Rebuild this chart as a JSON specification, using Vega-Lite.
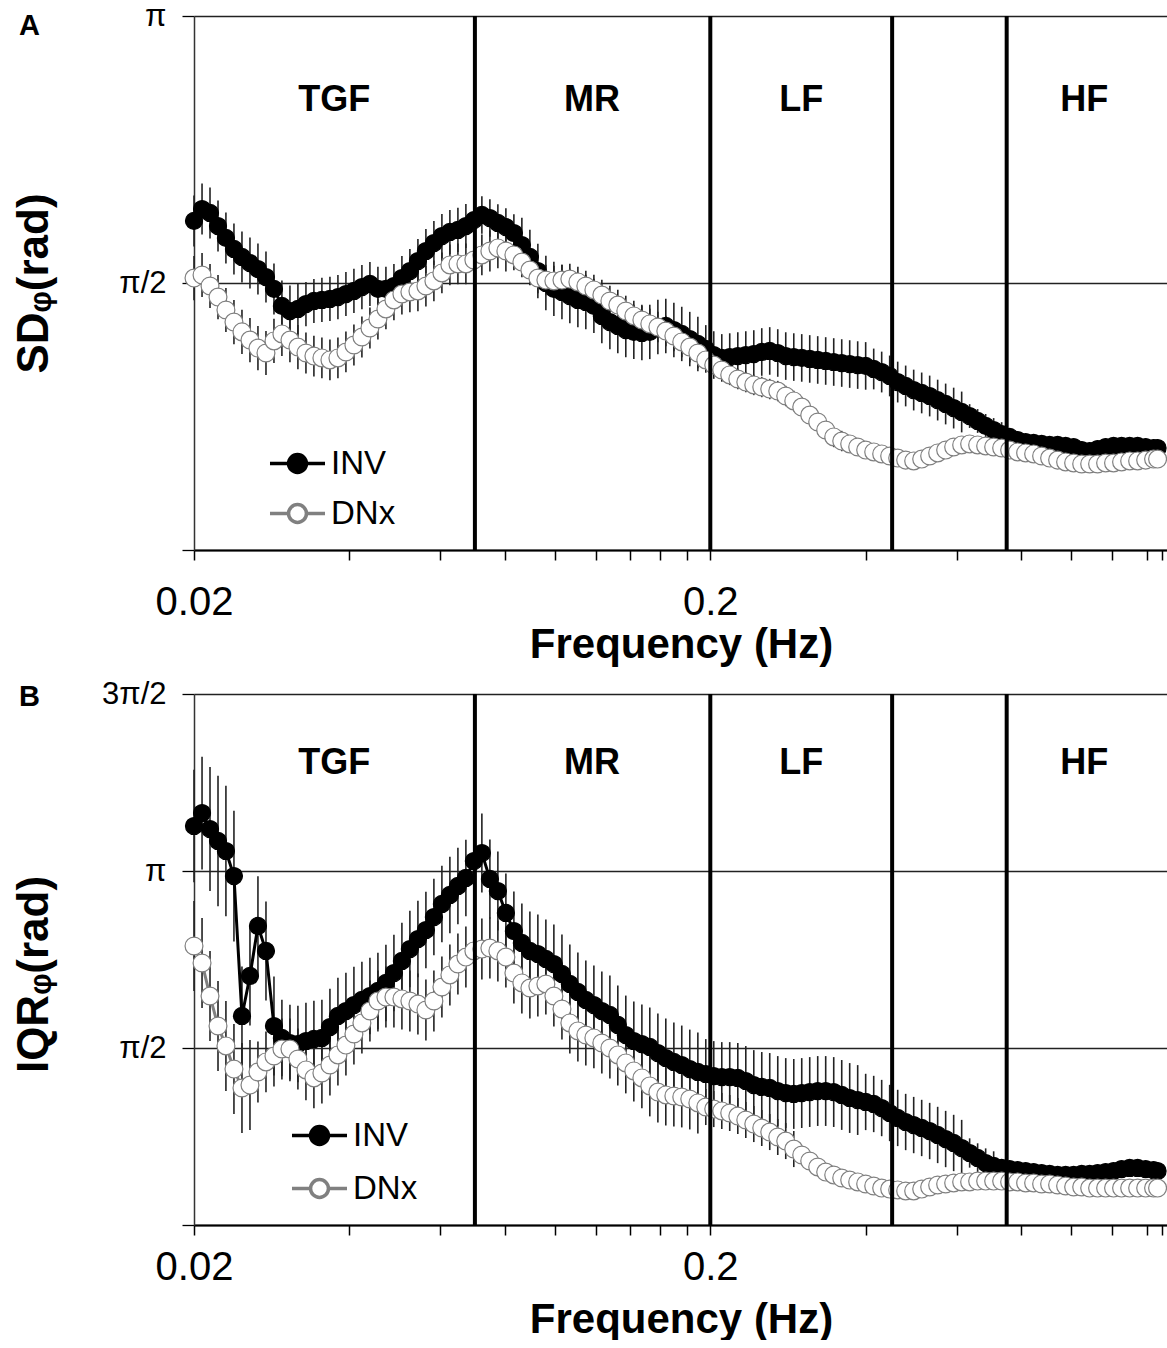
{
"$schema":"https://vega.github.io/schema/vega-lite/v6.json",
"background":"white",
"padding":{"left":11,"top":0,"right":0,"bottom":0},
"config":{"font":"Liberation Sans","view":{"stroke":null}},
"datasets":{
"A":[
{"f":0.02,"inv":1.936,"invErr":0.15,"dnx":1.600,"dnxErr":0.13},
{"f":0.02073,"inv":2.006,"invErr":0.15,"dnx":1.618,"dnxErr":0.13},
{"f":0.02148,"inv":1.983,"invErr":0.15,"dnx":1.553,"dnxErr":0.13},
{"f":0.02226,"inv":1.906,"invErr":0.15,"dnx":1.488,"dnxErr":0.13},
{"f":0.02306,"inv":1.836,"invErr":0.15,"dnx":1.412,"dnxErr":0.13},
{"f":0.0239,"inv":1.771,"invErr":0.15,"dnx":1.341,"dnxErr":0.13},
{"f":0.02477,"inv":1.724,"invErr":0.15,"dnx":1.283,"dnxErr":0.13},
{"f":0.02567,"inv":1.688,"invErr":0.15,"dnx":1.235,"dnxErr":0.13},
{"f":0.0266,"inv":1.653,"invErr":0.15,"dnx":1.188,"dnxErr":0.13},
{"f":0.02757,"inv":1.606,"invErr":0.15,"dnx":1.159,"dnxErr":0.13},
{"f":0.02857,"inv":1.536,"invErr":0.15,"dnx":1.230,"dnxErr":0.13},
{"f":0.0296,"inv":1.436,"invErr":0.15,"dnx":1.271,"dnxErr":0.13},
{"f":0.03068,"inv":1.406,"invErr":0.15,"dnx":1.235,"dnxErr":0.13},
{"f":0.03179,"inv":1.418,"invErr":0.15,"dnx":1.194,"dnxErr":0.13},
{"f":0.03295,"inv":1.447,"invErr":0.13,"dnx":1.159,"dnxErr":0.12},
{"f":0.03414,"inv":1.465,"invErr":0.13,"dnx":1.141,"dnxErr":0.12},
{"f":0.03538,"inv":1.471,"invErr":0.13,"dnx":1.130,"dnxErr":0.12},
{"f":0.03667,"inv":1.477,"invErr":0.13,"dnx":1.118,"dnxErr":0.12},
{"f":0.038,"inv":1.488,"invErr":0.13,"dnx":1.130,"dnxErr":0.12},
{"f":0.03938,"inv":1.506,"invErr":0.13,"dnx":1.165,"dnxErr":0.12},
{"f":0.04081,"inv":1.524,"invErr":0.13,"dnx":1.206,"dnxErr":0.12},
{"f":0.04229,"inv":1.547,"invErr":0.13,"dnx":1.253,"dnxErr":0.12},
{"f":0.04383,"inv":1.565,"invErr":0.13,"dnx":1.306,"dnxErr":0.12},
{"f":0.04542,"inv":1.536,"invErr":0.13,"dnx":1.359,"dnxErr":0.12},
{"f":0.04707,"inv":1.536,"invErr":0.13,"dnx":1.418,"dnxErr":0.12},
{"f":0.04878,"inv":1.553,"invErr":0.13,"dnx":1.471,"dnxErr":0.12},
{"f":0.05055,"inv":1.600,"invErr":0.13,"dnx":1.506,"dnxErr":0.12},
{"f":0.05238,"inv":1.641,"invErr":0.13,"dnx":1.518,"dnxErr":0.12},
{"f":0.05429,"inv":1.700,"invErr":0.13,"dnx":1.524,"dnxErr":0.12},
{"f":0.05626,"inv":1.759,"invErr":0.13,"dnx":1.553,"dnxErr":0.12},
{"f":0.0583,"inv":1.806,"invErr":0.13,"dnx":1.583,"dnxErr":0.12},
{"f":0.06042,"inv":1.847,"invErr":0.13,"dnx":1.630,"dnxErr":0.12},
{"f":0.06261,"inv":1.871,"invErr":0.13,"dnx":1.677,"dnxErr":0.12},
{"f":0.06489,"inv":1.883,"invErr":0.13,"dnx":1.683,"dnxErr":0.12},
{"f":0.06724,"inv":1.906,"invErr":0.13,"dnx":1.683,"dnxErr":0.12},
{"f":0.06968,"inv":1.941,"invErr":0.11,"dnx":1.706,"dnxErr":0.12},
{"f":0.07221,"inv":1.971,"invErr":0.11,"dnx":1.736,"dnxErr":0.12},
{"f":0.07484,"inv":1.953,"invErr":0.11,"dnx":1.759,"dnxErr":0.12},
{"f":0.07755,"inv":1.924,"invErr":0.11,"dnx":1.777,"dnxErr":0.12},
{"f":0.08037,"inv":1.900,"invErr":0.11,"dnx":1.759,"dnxErr":0.12},
{"f":0.08329,"inv":1.865,"invErr":0.11,"dnx":1.736,"dnxErr":0.09},
{"f":0.08631,"inv":1.794,"invErr":0.16,"dnx":1.694,"dnxErr":0.09},
{"f":0.08945,"inv":1.724,"invErr":0.16,"dnx":1.647,"dnxErr":0.09},
{"f":0.09269,"inv":1.641,"invErr":0.16,"dnx":1.600,"dnxErr":0.09},
{"f":0.09606,"inv":1.571,"invErr":0.16,"dnx":1.588,"dnxErr":0.09},
{"f":0.09955,"inv":1.536,"invErr":0.16,"dnx":1.583,"dnxErr":0.09},
{"f":0.1032,"inv":1.518,"invErr":0.16,"dnx":1.588,"dnxErr":0.09},
{"f":0.1069,"inv":1.494,"invErr":0.16,"dnx":1.594,"dnxErr":0.09},
{"f":0.1108,"inv":1.471,"invErr":0.16,"dnx":1.577,"dnxErr":0.09},
{"f":0.1148,"inv":1.459,"invErr":0.16,"dnx":1.553,"dnxErr":0.09},
{"f":0.119,"inv":1.436,"invErr":0.16,"dnx":1.530,"dnxErr":0.09},
{"f":0.1233,"inv":1.377,"invErr":0.16,"dnx":1.500,"dnxErr":0.09},
{"f":0.1278,"inv":1.341,"invErr":0.16,"dnx":1.465,"dnxErr":0.09},
{"f":0.1324,"inv":1.318,"invErr":0.16,"dnx":1.441,"dnxErr":0.09},
{"f":0.1372,"inv":1.294,"invErr":0.16,"dnx":1.406,"dnxErr":0.09},
{"f":0.1422,"inv":1.283,"invErr":0.16,"dnx":1.377,"dnxErr":0.09},
{"f":0.1474,"inv":1.277,"invErr":0.16,"dnx":1.353,"dnxErr":0.09},
{"f":0.1527,"inv":1.283,"invErr":0.16,"dnx":1.330,"dnxErr":0.09},
{"f":0.1583,"inv":1.312,"invErr":0.16,"dnx":1.312,"dnxErr":0.09},
{"f":0.164,"inv":1.318,"invErr":0.16,"dnx":1.288,"dnxErr":0.09},
{"f":0.17,"inv":1.294,"invErr":0.16,"dnx":1.259,"dnxErr":0.09},
{"f":0.1761,"inv":1.271,"invErr":0.16,"dnx":1.224,"dnxErr":0.09},
{"f":0.1825,"inv":1.241,"invErr":0.16,"dnx":1.194,"dnxErr":0.09},
{"f":0.1892,"inv":1.212,"invErr":0.16,"dnx":1.159,"dnxErr":0.09},
{"f":0.196,"inv":1.183,"invErr":0.14,"dnx":1.118,"dnxErr":0.06},
{"f":0.2031,"inv":1.147,"invErr":0.14,"dnx":1.088,"dnxErr":0.06},
{"f":0.2105,"inv":1.130,"invErr":0.14,"dnx":1.059,"dnxErr":0.06},
{"f":0.2181,"inv":1.135,"invErr":0.14,"dnx":1.030,"dnxErr":0.06},
{"f":0.2261,"inv":1.141,"invErr":0.14,"dnx":1.006,"dnxErr":0.06},
{"f":0.2343,"inv":1.147,"invErr":0.14,"dnx":0.988,"dnxErr":0.06},
{"f":0.2428,"inv":1.153,"invErr":0.14,"dnx":0.971,"dnxErr":0.06},
{"f":0.2516,"inv":1.165,"invErr":0.14,"dnx":0.959,"dnxErr":0.06},
{"f":0.2607,"inv":1.171,"invErr":0.14,"dnx":0.947,"dnxErr":0.06},
{"f":0.2702,"inv":1.159,"invErr":0.14,"dnx":0.935,"dnxErr":0.06},
{"f":0.28,"inv":1.141,"invErr":0.14,"dnx":0.906,"dnxErr":0.06},
{"f":0.2902,"inv":1.135,"invErr":0.14,"dnx":0.877,"dnxErr":0.06},
{"f":0.3007,"inv":1.130,"invErr":0.14,"dnx":0.841,"dnxErr":0.06},
{"f":0.3116,"inv":1.124,"invErr":0.14,"dnx":0.794,"dnxErr":0.06},
{"f":0.3229,"inv":1.118,"invErr":0.14,"dnx":0.753,"dnxErr":0.06},
{"f":0.3346,"inv":1.112,"invErr":0.14,"dnx":0.706,"dnxErr":0.06},
{"f":0.3468,"inv":1.106,"invErr":0.14,"dnx":0.665,"dnxErr":0.06},
{"f":0.3594,"inv":1.100,"invErr":0.14,"dnx":0.641,"dnxErr":0.06},
{"f":0.3724,"inv":1.094,"invErr":0.14,"dnx":0.624,"dnxErr":0.02},
{"f":0.3859,"inv":1.088,"invErr":0.14,"dnx":0.606,"dnxErr":0.02},
{"f":0.3999,"inv":1.083,"invErr":0.14,"dnx":0.588,"dnxErr":0.02},
{"f":0.4145,"inv":1.065,"invErr":0.12,"dnx":0.577,"dnxErr":0.02},
{"f":0.4295,"inv":1.047,"invErr":0.12,"dnx":0.565,"dnxErr":0.02},
{"f":0.4451,"inv":1.024,"invErr":0.12,"dnx":0.553,"dnxErr":0.02},
{"f":0.4613,"inv":0.988,"invErr":0.12,"dnx":0.541,"dnxErr":0.02},
{"f":0.478,"inv":0.965,"invErr":0.12,"dnx":0.529,"dnxErr":0.02},
{"f":0.4954,"inv":0.941,"invErr":0.12,"dnx":0.524,"dnxErr":0.02},
{"f":0.5134,"inv":0.924,"invErr":0.12,"dnx":0.535,"dnxErr":0.02},
{"f":0.532,"inv":0.906,"invErr":0.12,"dnx":0.553,"dnxErr":0.02},
{"f":0.5513,"inv":0.882,"invErr":0.12,"dnx":0.571,"dnxErr":0.02},
{"f":0.5713,"inv":0.859,"invErr":0.12,"dnx":0.588,"dnxErr":0.02},
{"f":0.5921,"inv":0.835,"invErr":0.12,"dnx":0.606,"dnxErr":0.02},
{"f":0.6136,"inv":0.812,"invErr":0.12,"dnx":0.618,"dnxErr":0.02},
{"f":0.6358,"inv":0.788,"invErr":0.07,"dnx":0.624,"dnxErr":0.02},
{"f":0.6589,"inv":0.759,"invErr":0.07,"dnx":0.618,"dnxErr":0.02},
{"f":0.6829,"inv":0.730,"invErr":0.07,"dnx":0.612,"dnxErr":0.02},
{"f":0.7077,"inv":0.706,"invErr":0.07,"dnx":0.606,"dnxErr":0.02},
{"f":0.7334,"inv":0.682,"invErr":0.07,"dnx":0.600,"dnxErr":0.02},
{"f":0.76,"inv":0.665,"invErr":0.03,"dnx":0.588,"dnxErr":0.02},
{"f":0.7876,"inv":0.647,"invErr":0.03,"dnx":0.577,"dnxErr":0.02},
{"f":0.8162,"inv":0.635,"invErr":0.03,"dnx":0.571,"dnxErr":0.02},
{"f":0.8458,"inv":0.630,"invErr":0.03,"dnx":0.565,"dnxErr":0.02},
{"f":0.8765,"inv":0.624,"invErr":0.03,"dnx":0.553,"dnxErr":0.02},
{"f":0.9083,"inv":0.618,"invErr":0.03,"dnx":0.541,"dnxErr":0.02},
{"f":0.9413,"inv":0.618,"invErr":0.03,"dnx":0.529,"dnxErr":0.02},
{"f":0.9755,"inv":0.612,"invErr":0.03,"dnx":0.518,"dnxErr":0.02},
{"f":1.011,"inv":0.606,"invErr":0.03,"dnx":0.512,"dnxErr":0.02},
{"f":1.048,"inv":0.588,"invErr":0.05,"dnx":0.506,"dnxErr":0.02},
{"f":1.086,"inv":0.582,"invErr":0.05,"dnx":0.506,"dnxErr":0.02},
{"f":1.125,"inv":0.594,"invErr":0.05,"dnx":0.506,"dnxErr":0.02},
{"f":1.166,"inv":0.606,"invErr":0.05,"dnx":0.512,"dnxErr":0.02},
{"f":1.208,"inv":0.612,"invErr":0.05,"dnx":0.512,"dnxErr":0.02},
{"f":1.252,"inv":0.612,"invErr":0.05,"dnx":0.518,"dnxErr":0.02},
{"f":1.298,"inv":0.612,"invErr":0.05,"dnx":0.524,"dnxErr":0.02},
{"f":1.345,"inv":0.612,"invErr":0.05,"dnx":0.524,"dnxErr":0.02},
{"f":1.394,"inv":0.606,"invErr":0.05,"dnx":0.529,"dnxErr":0.02},
{"f":1.444,"inv":0.600,"invErr":0.05,"dnx":0.535,"dnxErr":0.02},
{"f":1.47,"inv":0.600,"invErr":0.05,"dnx":0.535,"dnxErr":0.02}
],
"B":[
{"f":0.02,"inv":3.541,"invErr":0.50,"dnx":2.476,"dnxErr":0.40},
{"f":0.02073,"inv":3.656,"invErr":0.50,"dnx":2.325,"dnxErr":0.40},
{"f":0.02148,"inv":3.514,"invErr":0.55,"dnx":2.032,"dnxErr":0.40},
{"f":0.02226,"inv":3.408,"invErr":0.58,"dnx":1.766,"dnxErr":0.40},
{"f":0.02306,"inv":3.319,"invErr":0.58,"dnx":1.589,"dnxErr":0.40},
{"f":0.0239,"inv":3.097,"invErr":0.58,"dnx":1.384,"dnxErr":0.40},
{"f":0.02477,"inv":1.855,"invErr":0.44,"dnx":1.216,"dnxErr":0.40},
{"f":0.02567,"inv":2.210,"invErr":0.44,"dnx":1.242,"dnxErr":0.40},
{"f":0.0266,"inv":2.654,"invErr":0.44,"dnx":1.358,"dnxErr":0.27},
{"f":0.02757,"inv":2.432,"invErr":0.44,"dnx":1.447,"dnxErr":0.27},
{"f":0.02857,"inv":1.766,"invErr":0.44,"dnx":1.500,"dnxErr":0.27},
{"f":0.0296,"inv":1.660,"invErr":0.34,"dnx":1.562,"dnxErr":0.27},
{"f":0.03068,"inv":1.615,"invErr":0.34,"dnx":1.562,"dnxErr":0.27},
{"f":0.03179,"inv":1.606,"invErr":0.34,"dnx":1.473,"dnxErr":0.27},
{"f":0.03295,"inv":1.633,"invErr":0.34,"dnx":1.376,"dnxErr":0.27},
{"f":0.03414,"inv":1.651,"invErr":0.34,"dnx":1.305,"dnxErr":0.27},
{"f":0.03538,"inv":1.660,"invErr":0.34,"dnx":1.349,"dnxErr":0.27},
{"f":0.03667,"inv":1.757,"invErr":0.34,"dnx":1.420,"dnxErr":0.27},
{"f":0.038,"inv":1.855,"invErr":0.34,"dnx":1.509,"dnxErr":0.27},
{"f":0.03938,"inv":1.899,"invErr":0.34,"dnx":1.597,"dnxErr":0.27},
{"f":0.04081,"inv":1.952,"invErr":0.34,"dnx":1.695,"dnxErr":0.27},
{"f":0.04229,"inv":1.997,"invErr":0.34,"dnx":1.793,"dnxErr":0.27},
{"f":0.04383,"inv":2.032,"invErr":0.34,"dnx":1.899,"dnxErr":0.27},
{"f":0.04542,"inv":2.077,"invErr":0.34,"dnx":1.988,"dnxErr":0.27},
{"f":0.04707,"inv":2.148,"invErr":0.34,"dnx":2.023,"dnxErr":0.27},
{"f":0.04878,"inv":2.236,"invErr":0.34,"dnx":2.023,"dnxErr":0.27},
{"f":0.05055,"inv":2.343,"invErr":0.34,"dnx":2.006,"dnxErr":0.27},
{"f":0.05238,"inv":2.449,"invErr":0.34,"dnx":1.988,"dnxErr":0.27},
{"f":0.05429,"inv":2.538,"invErr":0.34,"dnx":1.961,"dnxErr":0.27},
{"f":0.05626,"inv":2.618,"invErr":0.34,"dnx":1.908,"dnxErr":0.27},
{"f":0.0583,"inv":2.733,"invErr":0.34,"dnx":1.988,"dnxErr":0.27},
{"f":0.06042,"inv":2.849,"invErr":0.34,"dnx":2.112,"dnxErr":0.27},
{"f":0.06261,"inv":2.929,"invErr":0.34,"dnx":2.219,"dnxErr":0.27},
{"f":0.06489,"inv":3.009,"invErr":0.34,"dnx":2.316,"dnxErr":0.27},
{"f":0.06724,"inv":3.080,"invErr":0.34,"dnx":2.378,"dnxErr":0.27},
{"f":0.06968,"inv":3.230,"invErr":0.35,"dnx":2.432,"dnxErr":0.27},
{"f":0.07221,"inv":3.301,"invErr":0.35,"dnx":2.449,"dnxErr":0.27},
{"f":0.07484,"inv":3.071,"invErr":0.35,"dnx":2.458,"dnxErr":0.27},
{"f":0.07755,"inv":2.964,"invErr":0.35,"dnx":2.432,"dnxErr":0.27},
{"f":0.08037,"inv":2.769,"invErr":0.35,"dnx":2.378,"dnxErr":0.27},
{"f":0.08329,"inv":2.609,"invErr":0.35,"dnx":2.236,"dnxErr":0.27},
{"f":0.08631,"inv":2.503,"invErr":0.35,"dnx":2.148,"dnxErr":0.27},
{"f":0.08945,"inv":2.432,"invErr":0.35,"dnx":2.103,"dnxErr":0.27},
{"f":0.09269,"inv":2.405,"invErr":0.35,"dnx":2.121,"dnxErr":0.27},
{"f":0.09606,"inv":2.361,"invErr":0.35,"dnx":2.139,"dnxErr":0.27},
{"f":0.09955,"inv":2.316,"invErr":0.35,"dnx":2.032,"dnxErr":0.27},
{"f":0.1032,"inv":2.228,"invErr":0.35,"dnx":1.917,"dnxErr":0.27},
{"f":0.1069,"inv":2.139,"invErr":0.35,"dnx":1.793,"dnxErr":0.27},
{"f":0.1108,"inv":2.068,"invErr":0.35,"dnx":1.722,"dnxErr":0.27},
{"f":0.1148,"inv":1.997,"invErr":0.35,"dnx":1.686,"dnxErr":0.27},
{"f":0.119,"inv":1.952,"invErr":0.35,"dnx":1.660,"dnxErr":0.27},
{"f":0.1233,"inv":1.899,"invErr":0.35,"dnx":1.615,"dnxErr":0.27},
{"f":0.1278,"inv":1.864,"invErr":0.35,"dnx":1.571,"dnxErr":0.27},
{"f":0.1324,"inv":1.775,"invErr":0.35,"dnx":1.509,"dnxErr":0.27},
{"f":0.1372,"inv":1.686,"invErr":0.35,"dnx":1.438,"dnxErr":0.27},
{"f":0.1422,"inv":1.633,"invErr":0.35,"dnx":1.367,"dnxErr":0.27},
{"f":0.1474,"inv":1.606,"invErr":0.35,"dnx":1.305,"dnxErr":0.27},
{"f":0.1527,"inv":1.580,"invErr":0.35,"dnx":1.234,"dnxErr":0.27},
{"f":0.1583,"inv":1.526,"invErr":0.35,"dnx":1.180,"dnxErr":0.27},
{"f":0.164,"inv":1.482,"invErr":0.35,"dnx":1.154,"dnxErr":0.27},
{"f":0.17,"inv":1.447,"invErr":0.35,"dnx":1.145,"dnxErr":0.27},
{"f":0.1761,"inv":1.420,"invErr":0.35,"dnx":1.136,"dnxErr":0.27},
{"f":0.1825,"inv":1.384,"invErr":0.35,"dnx":1.118,"dnxErr":0.27},
{"f":0.1892,"inv":1.358,"invErr":0.35,"dnx":1.083,"dnxErr":0.27},
{"f":0.196,"inv":1.340,"invErr":0.31,"dnx":1.047,"dnxErr":0.16},
{"f":0.2031,"inv":1.322,"invErr":0.31,"dnx":1.029,"dnxErr":0.16},
{"f":0.2105,"inv":1.313,"invErr":0.31,"dnx":1.012,"dnxErr":0.16},
{"f":0.2181,"inv":1.313,"invErr":0.31,"dnx":0.994,"dnxErr":0.16},
{"f":0.2261,"inv":1.305,"invErr":0.31,"dnx":0.967,"dnxErr":0.16},
{"f":0.2343,"inv":1.278,"invErr":0.31,"dnx":0.932,"dnxErr":0.16},
{"f":0.2428,"inv":1.242,"invErr":0.31,"dnx":0.896,"dnxErr":0.16},
{"f":0.2516,"inv":1.225,"invErr":0.31,"dnx":0.861,"dnxErr":0.16},
{"f":0.2607,"inv":1.216,"invErr":0.31,"dnx":0.825,"dnxErr":0.16},
{"f":0.2702,"inv":1.189,"invErr":0.31,"dnx":0.781,"dnxErr":0.16},
{"f":0.28,"inv":1.171,"invErr":0.31,"dnx":0.745,"dnxErr":0.16},
{"f":0.2902,"inv":1.163,"invErr":0.31,"dnx":0.674,"dnxErr":0.16},
{"f":0.3007,"inv":1.171,"invErr":0.31,"dnx":0.621,"dnxErr":0.04},
{"f":0.3116,"inv":1.180,"invErr":0.31,"dnx":0.568,"dnxErr":0.04},
{"f":0.3229,"inv":1.189,"invErr":0.31,"dnx":0.515,"dnxErr":0.04},
{"f":0.3346,"inv":1.189,"invErr":0.31,"dnx":0.470,"dnxErr":0.04},
{"f":0.3468,"inv":1.180,"invErr":0.31,"dnx":0.444,"dnxErr":0.04},
{"f":0.3594,"inv":1.154,"invErr":0.31,"dnx":0.417,"dnxErr":0.04},
{"f":0.3724,"inv":1.127,"invErr":0.31,"dnx":0.399,"dnxErr":0.04},
{"f":0.3859,"inv":1.109,"invErr":0.31,"dnx":0.382,"dnxErr":0.04},
{"f":0.3999,"inv":1.092,"invErr":0.25,"dnx":0.364,"dnxErr":0.04},
{"f":0.4145,"inv":1.074,"invErr":0.25,"dnx":0.346,"dnxErr":0.04},
{"f":0.4295,"inv":1.038,"invErr":0.25,"dnx":0.328,"dnxErr":0.04},
{"f":0.4451,"inv":0.994,"invErr":0.25,"dnx":0.319,"dnxErr":0.04},
{"f":0.4613,"inv":0.950,"invErr":0.25,"dnx":0.311,"dnxErr":0.04},
{"f":0.478,"inv":0.914,"invErr":0.25,"dnx":0.302,"dnxErr":0.04},
{"f":0.4954,"inv":0.887,"invErr":0.25,"dnx":0.302,"dnxErr":0.04},
{"f":0.5134,"inv":0.861,"invErr":0.25,"dnx":0.319,"dnxErr":0.04},
{"f":0.532,"inv":0.834,"invErr":0.25,"dnx":0.337,"dnxErr":0.04},
{"f":0.5513,"inv":0.799,"invErr":0.25,"dnx":0.355,"dnxErr":0.04},
{"f":0.5713,"inv":0.763,"invErr":0.25,"dnx":0.364,"dnxErr":0.04},
{"f":0.5921,"inv":0.728,"invErr":0.25,"dnx":0.373,"dnxErr":0.04},
{"f":0.6136,"inv":0.683,"invErr":0.25,"dnx":0.382,"dnxErr":0.04},
{"f":0.6358,"inv":0.639,"invErr":0.13,"dnx":0.382,"dnxErr":0.04},
{"f":0.6589,"inv":0.595,"invErr":0.13,"dnx":0.390,"dnxErr":0.04},
{"f":0.6829,"inv":0.550,"invErr":0.13,"dnx":0.390,"dnxErr":0.04},
{"f":0.7077,"inv":0.524,"invErr":0.13,"dnx":0.390,"dnxErr":0.04},
{"f":0.7334,"inv":0.506,"invErr":0.04,"dnx":0.390,"dnxErr":0.04},
{"f":0.76,"inv":0.497,"invErr":0.04,"dnx":0.382,"dnxErr":0.04},
{"f":0.7876,"inv":0.488,"invErr":0.04,"dnx":0.382,"dnxErr":0.04},
{"f":0.8162,"inv":0.479,"invErr":0.04,"dnx":0.373,"dnxErr":0.04},
{"f":0.8458,"inv":0.470,"invErr":0.04,"dnx":0.373,"dnxErr":0.04},
{"f":0.8765,"inv":0.461,"invErr":0.04,"dnx":0.364,"dnxErr":0.04},
{"f":0.9083,"inv":0.453,"invErr":0.04,"dnx":0.364,"dnxErr":0.04},
{"f":0.9413,"inv":0.444,"invErr":0.04,"dnx":0.355,"dnxErr":0.04},
{"f":0.9755,"inv":0.444,"invErr":0.04,"dnx":0.346,"dnxErr":0.04},
{"f":1.011,"inv":0.444,"invErr":0.04,"dnx":0.337,"dnxErr":0.04},
{"f":1.048,"inv":0.453,"invErr":0.07,"dnx":0.337,"dnxErr":0.04},
{"f":1.086,"inv":0.453,"invErr":0.07,"dnx":0.328,"dnxErr":0.04},
{"f":1.125,"inv":0.461,"invErr":0.07,"dnx":0.328,"dnxErr":0.04},
{"f":1.166,"inv":0.470,"invErr":0.07,"dnx":0.328,"dnxErr":0.04},
{"f":1.208,"inv":0.479,"invErr":0.07,"dnx":0.328,"dnxErr":0.04},
{"f":1.252,"inv":0.497,"invErr":0.07,"dnx":0.328,"dnxErr":0.04},
{"f":1.298,"inv":0.506,"invErr":0.07,"dnx":0.328,"dnxErr":0.04},
{"f":1.345,"inv":0.506,"invErr":0.07,"dnx":0.328,"dnxErr":0.04},
{"f":1.394,"inv":0.497,"invErr":0.07,"dnx":0.328,"dnxErr":0.04},
{"f":1.444,"inv":0.488,"invErr":0.07,"dnx":0.328,"dnxErr":0.04},
{"f":1.47,"inv":0.479,"invErr":0.07,"dnx":0.328,"dnxErr":0.04}
],
"bands":[{"f":0.07},{"f":0.2},{"f":0.45},{"f":0.75}],
"labelsA":[{"f":0.0374,"v":2.65,"label":"TGF"},{"f":0.118,"v":2.65,"label":"MR"},{"f":0.3,"v":2.65,"label":"LF"},{"f":1.06,"v":2.65,"label":"HF"}],
"labelsB":[{"f":0.0374,"v":4.1,"label":"TGF"},{"f":0.118,"v":4.1,"label":"MR"},{"f":0.3,"v":4.1,"label":"LF"},{"f":1.06,"v":4.1,"label":"HF"}]
},
"spacing":144,
"bounds":"flush",
"resolve":{"scale":{"x":"independent","y":"independent","fill":"independent","stroke":"independent"},"legend":{"fill":"independent","stroke":"independent"}},
"vconcat":[
{
"width":974,"height":534,
"title":{"text":"A","anchor":"start","frame":"bounds","fontSize":29,"fontWeight":"bold","font":"Liberation Sans","color":"black","offset":-41,"dx":7},
"data":{"name":"A"},
"encoding":{"x":{"field":"f","type":"quantitative","scale":{"type":"log","domain":[0.02,1.54]},
"axis":{"title":"Frequency (Hz)","values":[0.02,0.04,0.06,0.08,0.1,0.12,0.14,0.16,0.18,0.2,0.4,0.6,0.8,1,1.2,1.4,1.5],"labelExpr":"datum.value == 0.02 ? '0.02' : (datum.value == 0.2 ? '0.2' : '')","grid":false,"tickSize":10,"tickWidth":1.5,"tickColor":"black","domainColor":"black","domainWidth":2,"labelFontSize":40,"labelColor":"black","labelPadding":22,"labelFlush":false,"labelOverlap":false,"labelBound":false,"titleFontSize":42,"titleFontWeight":"bold","titleColor":"black","titleY":74,"titleBaseline":"top"}}},
"layer":[
{"mark":{"type":"errorbar","color":"#222","thickness":1.6},
"encoding":{"y":{"field":"inv","type":"quantitative","title":"SDᵩ(rad)","scale":{"domain":[0,3.1415927]},
"axis":{"title":"SDᵩ(rad)","values":[0,1.5707963,3.1415927],"labelExpr":"datum.value < 0.1 ? '' : (datum.value < 2 ? 'π/2' : (datum.value < 4 ? 'π' : '3π/2'))","grid":true,"gridColor":"#222","gridWidth":1.3,"tickSize":12,"tickColor":"black","tickWidth":1.3,"domainColor":"#333","domainWidth":1.5,"labelFontSize":31,"labelColor":"black","labelPadding":16,"titleFontSize":44,"titleFontWeight":"bold","titleColor":"black","titleAngle":-90,"titleX":-147,"titleY":267,"titleBaseline":"alphabetic","titleAlign":"center"}},
"yError":{"field":"invErr"}}},
{"mark":{"type":"errorbar","color":"#222","thickness":1.6},
"encoding":{"y":{"field":"dnx","type":"quantitative","title":"SDᵩ(rad)","scale":{"domain":[0,3.1415927]}},"yError":{"field":"dnxErr"}}},
{"mark":{"type":"line","color":"black","strokeWidth":3},
"encoding":{"y":{"field":"inv","type":"quantitative","title":"SDᵩ(rad)","scale":{"domain":[0,3.1415927]}}}},
{"mark":{"type":"circle","size":290,"opacity":1,"strokeWidth":1.2},
"encoding":{"y":{"field":"inv","type":"quantitative","title":"SDᵩ(rad)","scale":{"domain":[0,3.1415927]}},
"fill":{"datum":"INV","type":"nominal","scale":{"domain":["INV","DNx"],"range":["black","white"]},
"legend":{"title":null,"orient":"none","legendX":79,"legendY":423,"symbolType":"M-1.23,0L-0.4,0M1.23,0L0.4,0M0.4,0A0.4,0.4,0,1,1,-0.4,0A0.4,0.4,0,1,1,0.4,0Z","symbolSize":2000,"symbolStrokeWidth":3.5,"symbolOpacity":1,"labelFontSize":33,"labelFont":"Liberation Sans","labelColor":"black","labelOffset":9,"rowPadding":8,"padding":0}},
"stroke":{"datum":"INV","type":"nominal","scale":{"domain":["INV","DNx"],"range":["black","#808080"]},
"legend":{"title":null,"orient":"none","legendX":79,"legendY":423,"symbolType":"M-1.23,0L-0.4,0M1.23,0L0.4,0M0.4,0A0.4,0.4,0,1,1,-0.4,0A0.4,0.4,0,1,1,0.4,0Z","symbolSize":2000,"symbolStrokeWidth":3.5,"symbolOpacity":1,"labelFontSize":33,"labelFont":"Liberation Sans","labelColor":"black","labelOffset":9,"rowPadding":8,"padding":0}}}},
{"mark":{"type":"line","color":"#808080","strokeWidth":3},
"encoding":{"y":{"field":"dnx","type":"quantitative","title":"SDᵩ(rad)","scale":{"domain":[0,3.1415927]}}}},
{"mark":{"type":"circle","size":320,"opacity":1,"strokeWidth":1.2},
"encoding":{"y":{"field":"dnx","type":"quantitative","title":"SDᵩ(rad)","scale":{"domain":[0,3.1415927]}},
"fill":{"datum":"DNx","type":"nominal"},"stroke":{"datum":"DNx","type":"nominal"}}},
{"data":{"name":"labelsA"},"mark":{"type":"text","fontSize":36,"fontWeight":"bold","font":"Liberation Sans","color":"black","align":"center","baseline":"middle"},
"encoding":{"y":{"field":"v","type":"quantitative","title":"SDᵩ(rad)","scale":{"domain":[0,3.1415927]}},"text":{"field":"label"}}},
{"data":{"name":"bands"},"mark":{"type":"rule","color":"black","strokeWidth":4},"encoding":{}}
]
},
{
"width":974,"height":531,
"title":{"text":"B","anchor":"start","frame":"bounds","fontSize":29,"fontWeight":"bold","font":"Liberation Sans","color":"black","offset":-34,"dx":7},
"data":{"name":"B"},
"encoding":{"x":{"field":"f","type":"quantitative","scale":{"type":"log","domain":[0.02,1.54]},
"axis":{"title":"Frequency (Hz)","values":[0.02,0.04,0.06,0.08,0.1,0.12,0.14,0.16,0.18,0.2,0.4,0.6,0.8,1,1.2,1.4,1.5],"labelExpr":"datum.value == 0.02 ? '0.02' : (datum.value == 0.2 ? '0.2' : '')","grid":false,"tickSize":10,"tickWidth":1.5,"tickColor":"black","domainColor":"black","domainWidth":2,"labelFontSize":40,"labelColor":"black","labelPadding":12,"labelFlush":false,"labelOverlap":false,"labelBound":false,"titleFontSize":42,"titleFontWeight":"bold","titleColor":"black","titleY":74,"titleBaseline":"top"}}},
"layer":[
{"mark":{"type":"errorbar","color":"#222","thickness":1.6},
"encoding":{"y":{"field":"inv","type":"quantitative","title":"IQRᵩ(rad)","scale":{"domain":[0,4.712389]},
"axis":{"title":"IQRᵩ(rad)","values":[0,1.5707963,3.1415927,4.712389],"labelExpr":"datum.value < 0.1 ? '' : (datum.value < 2 ? 'π/2' : (datum.value < 4 ? 'π' : '3π/2'))","grid":true,"gridColor":"#222","gridWidth":1.3,"tickSize":12,"tickColor":"black","tickWidth":1.3,"domainColor":"#333","domainWidth":1.5,"labelFontSize":31,"labelColor":"black","labelPadding":16,"titleFontSize":44,"titleFontWeight":"bold","titleColor":"black","titleAngle":-90,"titleX":-147,"titleY":280,"titleBaseline":"alphabetic","titleAlign":"center"}},
"yError":{"field":"invErr"}}},
{"mark":{"type":"errorbar","color":"#222","thickness":1.6},
"encoding":{"y":{"field":"dnx","type":"quantitative","title":"IQRᵩ(rad)","scale":{"domain":[0,4.712389]}},"yError":{"field":"dnxErr"}}},
{"mark":{"type":"line","color":"black","strokeWidth":3},
"encoding":{"y":{"field":"inv","type":"quantitative","title":"IQRᵩ(rad)","scale":{"domain":[0,4.712389]}}}},
{"mark":{"type":"circle","size":290,"opacity":1,"strokeWidth":1.2},
"encoding":{"y":{"field":"inv","type":"quantitative","title":"IQRᵩ(rad)","scale":{"domain":[0,4.712389]}},
"fill":{"datum":"INV","type":"nominal","scale":{"domain":["INV","DNx"],"range":["black","white"]},
"legend":{"title":null,"orient":"none","legendX":101,"legendY":417,"symbolType":"M-1.23,0L-0.4,0M1.23,0L0.4,0M0.4,0A0.4,0.4,0,1,1,-0.4,0A0.4,0.4,0,1,1,0.4,0Z","symbolSize":2000,"symbolStrokeWidth":3.5,"symbolOpacity":1,"labelFontSize":33,"labelFont":"Liberation Sans","labelColor":"black","labelOffset":9,"rowPadding":11,"padding":0}},
"stroke":{"datum":"INV","type":"nominal","scale":{"domain":["INV","DNx"],"range":["black","#808080"]},
"legend":{"title":null,"orient":"none","legendX":101,"legendY":417,"symbolType":"M-1.23,0L-0.4,0M1.23,0L0.4,0M0.4,0A0.4,0.4,0,1,1,-0.4,0A0.4,0.4,0,1,1,0.4,0Z","symbolSize":2000,"symbolStrokeWidth":3.5,"symbolOpacity":1,"labelFontSize":33,"labelFont":"Liberation Sans","labelColor":"black","labelOffset":9,"rowPadding":11,"padding":0}}}},
{"mark":{"type":"line","color":"#808080","strokeWidth":3},
"encoding":{"y":{"field":"dnx","type":"quantitative","title":"IQRᵩ(rad)","scale":{"domain":[0,4.712389]}}}},
{"mark":{"type":"circle","size":320,"opacity":1,"strokeWidth":1.2},
"encoding":{"y":{"field":"dnx","type":"quantitative","title":"IQRᵩ(rad)","scale":{"domain":[0,4.712389]}},
"fill":{"datum":"DNx","type":"nominal"},"stroke":{"datum":"DNx","type":"nominal"}}},
{"data":{"name":"labelsB"},"mark":{"type":"text","fontSize":36,"fontWeight":"bold","font":"Liberation Sans","color":"black","align":"center","baseline":"middle"},
"encoding":{"y":{"field":"v","type":"quantitative","title":"IQRᵩ(rad)","scale":{"domain":[0,4.712389]}},"text":{"field":"label"}}},
{"data":{"name":"bands"},"mark":{"type":"rule","color":"black","strokeWidth":4},"encoding":{}}
]
}
]
}
